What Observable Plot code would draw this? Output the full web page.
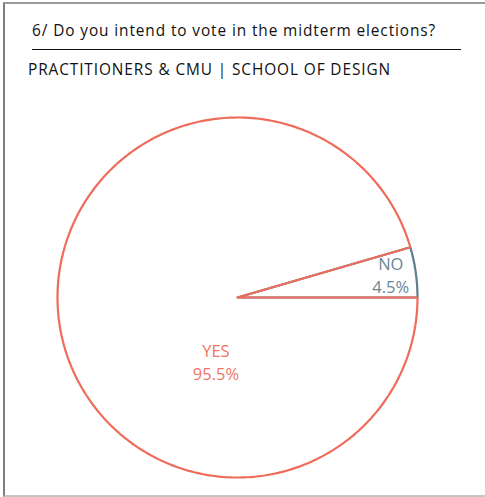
<!DOCTYPE html>
<html>
<head>
<meta charset="utf-8">
<script src="https://cdn.jsdelivr.net/npm/d3@7"></script>
<script src="https://cdn.jsdelivr.net/npm/@observablehq/plot@0.6"></script>
<style>
  html, body { margin: 0; padding: 0; background: #fff; }
  #wrap { position: relative; width: 485px; height: 497px; overflow: hidden; font-family: "Open Sans", sans-serif; }
  #frame { position: absolute; left: 3px; top: 2px; width: 490px; height: 495px;
           border-left: 2px solid #7f7f7f; border-top: 2px solid #9a9a9a; border-bottom: 2px solid #c4c4c4; box-sizing: border-box; }
  #title { position: absolute; left: 32px; top: 23.3px; font-size: 15.4px; letter-spacing: 0.9px; color: #111; white-space: nowrap; line-height: 1; }
  #rule { position: absolute; left: 32px; top: 48.5px; width: 429px; height: 0; border-top: 1.7px solid #111; }
  #subtitle { position: absolute; left: 28px; top: 62.3px; font-size: 15.4px; letter-spacing: 0.9px; color: #111; white-space: nowrap; line-height: 1; }
  #chart { position: absolute; left: 0; top: 0; }
</style>
</head>
<body>
<div id="wrap">
  <div id="frame"></div>
  <div id="title">6/ Do you intend to vote in the midterm elections?</div>
  <div id="rule"></div>
  <div id="subtitle">PRACTITIONERS &amp; CMU | SCHOOL OF DESIGN</div>
  <div id="chart"></div>
</div>
<script>
// ---- data ----
const categories = ["YES", "NO"];
const values = [95.5, 4.5];
const valueLabels = ["95.5%", "4.5%"];

// ---- styling ----
const colors = { YES: "#ef6b5a", NO: "#5e7d8e" };
const textColors = { YES: "#f07565", NO: "#6a8697" };

// Slices run counter-clockwise from 3 o'clock; NO first, then YES.
const order = ["NO", "YES"];
const total = d3.sum(values);
let start = 0;
const slices = order.map(c => {
  const i = categories.indexOf(c);
  const a0 = start;
  const a1 = start + values[i] / total * 2 * Math.PI;
  start = a1;
  return { category: c, value: values[i], label: valueLabels[i], a0, a1 };
});

// outline points: center -> arc -> center
function outline(s) {
  const pts = [{ x: 0, y: 0, category: s.category }];
  const n = Math.max(4, Math.ceil((s.a1 - s.a0) / (Math.PI / 180)));
  for (let k = 0; k <= n; k++) {
    const a = s.a0 + (s.a1 - s.a0) * k / n;
    pts.push({ x: Math.cos(a), y: Math.sin(a), category: s.category });
  }
  pts.push({ x: 0, y: 0, category: s.category });
  return pts;
}
const noSlice = slices.find(s => s.category === "NO");
const yesSlice = slices.find(s => s.category === "YES");

// label anchors, relative to the radius, placed the way the source placed them
function labelPoint(s) {
  if (s.category === "NO") {
    const m = (s.a0 + s.a1) / 2;
    return { x: 0.86 * Math.cos(m), y: 0.86 * Math.sin(m) + 0.008 };
  }
  return { x: -0.12, y: -0.352 };
}
const labels = slices.map(s => ({ ...labelPoint(s), category: s.category, text: s.category + "\n" + s.label }));

const chart = Plot.plot({
  width: 485,
  height: 497,
  marginLeft: 57,
  marginRight: 68,
  marginTop: 117,
  marginBottom: 20,
  x: { domain: [-1, 1], axis: null },
  y: { domain: [-1, 1], axis: null },
  style: { background: "transparent", overflow: "visible" },
  marks: [
    Plot.line(outline(noSlice), { x: "x", y: "y", stroke: colors.NO, strokeWidth: 2.2, strokeLinejoin: "miter" }),
    Plot.line(outline(yesSlice), { x: "x", y: "y", stroke: colors.YES, strokeWidth: 2.2, strokeLinejoin: "miter" }),
    Plot.text(labels, {
      x: "x", y: "y", text: "text",
      fill: d => textColors[d.category],
      fontSize: 16.5, lineHeight: 1.4,
      fontFamily: "Open Sans, sans-serif"
    })
  ]
});
document.getElementById("chart").appendChild(chart);
</script>
</body>
</html>
